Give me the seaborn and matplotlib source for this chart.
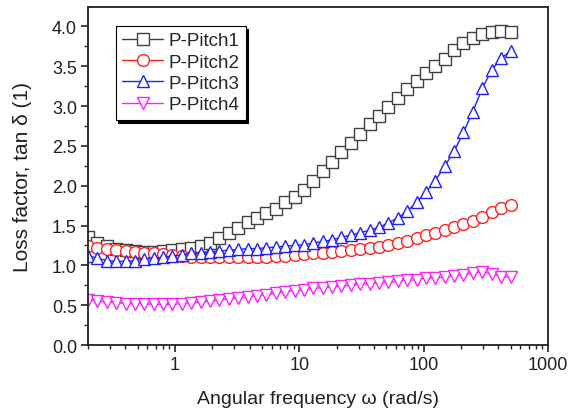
import matplotlib
matplotlib.use("Agg")
import matplotlib.pyplot as plt
from matplotlib.ticker import MultipleLocator, LogLocator, NullFormatter, FixedLocator, FixedFormatter
import seaborn as sns

# angular frequency (rad/s)
freq = [0.200, 0.238, 0.283, 0.337, 0.401, 0.477, 0.567, 0.675, 0.803, 0.955,
        1.14, 1.35, 1.61, 1.92, 2.28, 2.71, 3.23, 3.84, 4.57, 5.44,
        6.47, 7.70, 9.16, 10.9, 13.0, 15.4, 18.4, 21.8, 26.0, 30.9,
        36.8, 43.8, 52.1, 62.0, 73.7, 87.7, 104, 124, 148, 176,
        209, 249, 296, 353, 420, 500]

pitch1 = [1.36, 1.28, 1.24, 1.21, 1.19, 1.18, 1.17, 1.17, 1.18, 1.19,
          1.20, 1.22, 1.24, 1.28, 1.34, 1.41, 1.47, 1.54, 1.60, 1.66,
          1.71, 1.79, 1.86, 1.95, 2.06, 2.18, 2.30, 2.42, 2.54, 2.65,
          2.77, 2.88, 2.99, 3.10, 3.21, 3.31, 3.42, 3.50, 3.59, 3.70,
          3.79, 3.85, 3.90, 3.93, 3.94, 3.93]

pitch2 = [1.24, 1.22, 1.20, 1.19, 1.18, 1.17, 1.16, 1.15, 1.14, 1.13,
          1.12, 1.11, 1.11, 1.10, 1.10, 1.10, 1.10, 1.10, 1.11, 1.11,
          1.12, 1.12, 1.13, 1.14, 1.15, 1.16, 1.17, 1.18, 1.19, 1.20,
          1.22, 1.23, 1.25, 1.28, 1.31, 1.34, 1.38, 1.41, 1.45, 1.48,
          1.52, 1.56, 1.61, 1.67, 1.72, 1.76]

pitch3 = [1.12, 1.09, 1.06, 1.05, 1.05, 1.06, 1.08, 1.09, 1.10, 1.12,
          1.13, 1.15, 1.16, 1.17, 1.18, 1.19, 1.20, 1.21, 1.21, 1.22,
          1.23, 1.24, 1.25, 1.26, 1.28, 1.30, 1.32, 1.35, 1.38, 1.41,
          1.44, 1.48, 1.53, 1.60, 1.68, 1.79, 1.92, 2.06, 2.25, 2.43,
          2.67, 2.93, 3.22, 3.45, 3.60, 3.69]

pitch4 = [0.57, 0.55, 0.54, 0.53, 0.52, 0.52, 0.52, 0.51, 0.51, 0.51,
          0.52, 0.53, 0.54, 0.55, 0.56, 0.58, 0.59, 0.60, 0.62, 0.63,
          0.65, 0.67, 0.68, 0.69, 0.71, 0.72, 0.73, 0.74, 0.75, 0.76,
          0.77, 0.78, 0.79, 0.80, 0.81, 0.82, 0.84, 0.84, 0.85, 0.87,
          0.88, 0.90, 0.92, 0.89, 0.86, 0.85]

names = ["P-Pitch1", "P-Pitch2", "P-Pitch3", "P-Pitch4"]
colors = ["#404040", "#ff2020", "#2020ff", "#ff20ff"]
markers = ["s", "o", "^", "v"]

sns.set_style("ticks")
plt.rcParams['font.family'] = ['Liberation Sans', 'DejaVu Sans']

fig = plt.figure(figsize=(5.69, 4.10), dpi=100)
ax = fig.add_axes([0.1547, 0.156, 0.8083, 0.824])

for name, vals, col, mk in zip(names, [pitch1, pitch2, pitch3, pitch4], colors, markers):
    sns.lineplot(x=freq, y=vals, ax=ax, color=col, marker=mk, label=name,
                 linewidth=1.0, markersize=8.5, markerfacecolor="white",
                 markeredgecolor=col, markeredgewidth=1.0, sort=False)

ax.set_xscale("log")
ax.set_xlim(0.2, 1000)
ax.set_ylim(0, 4.24)

ax.xaxis.set_major_locator(FixedLocator([1, 10, 100, 1000]))
ax.xaxis.set_major_formatter(FixedFormatter(["1", "10", "100", "1000"]))
ax.xaxis.set_minor_locator(LogLocator(base=10, subs=range(2, 10), numticks=20))
ax.xaxis.set_minor_formatter(NullFormatter())
ax.yaxis.set_major_locator(MultipleLocator(0.5))
ax.yaxis.set_minor_locator(MultipleLocator(0.25))
ax.yaxis.set_major_formatter(plt.FuncFormatter(lambda v, p: f"{v:.1f}"))

for s in ax.spines.values():
    s.set_linewidth(1.3)
    s.set_color("#202020")

ax.tick_params(which="major", direction="out", length=5, width=1.2,
               labelsize=13, colors="#202020", pad=3)
ax.tick_params(which="minor", direction="out", length=3, width=1.0, colors="#202020")
ax.tick_params(top=False, right=False)

ax.set_xlabel("Angular frequency ω (rad/s)", fontsize=14, labelpad=12, color="#202020")
ax.set_ylabel("Loss factor, tan δ (1)", fontsize=15, labelpad=14, color="#202020")

leg = ax.legend(loc="upper left", bbox_to_anchor=(0.06, 0.945), borderaxespad=0,
                fontsize=13.5, frameon=True, fancybox=False, shadow={'color': 'black', 'alpha': 1},
                handlelength=2.2, handletextpad=0.25, labelspacing=0.22, borderpad=0.35)
leg.get_frame().set_edgecolor("black")
leg.get_frame().set_linewidth(0.8)
leg.get_frame().set_alpha(1)

fig.savefig("out.png", dpi=100)
